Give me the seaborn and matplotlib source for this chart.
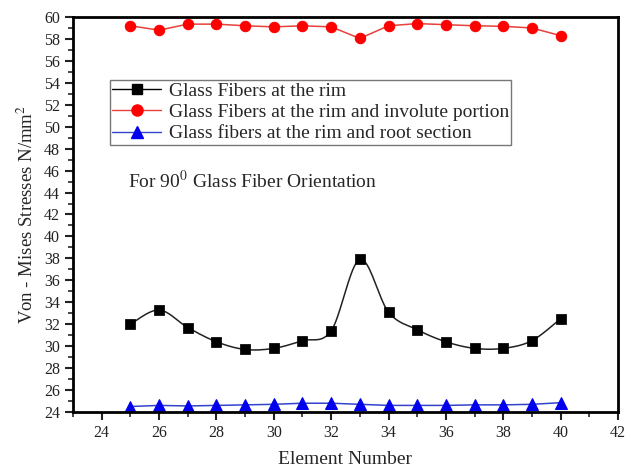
import numpy as np
import pandas as pd
import seaborn as sns
import matplotlib
matplotlib.use("Agg")
import matplotlib.pyplot as plt
from matplotlib.lines import Line2D
from matplotlib.ticker import MultipleLocator

elements = [25, 26, 27, 28, 29, 30, 31, 32, 33, 34, 35, 36, 37, 38, 39, 40]
rim = [32.0, 33.3, 31.7, 30.4, 29.7, 29.8, 30.5, 31.4, 37.9, 33.1, 31.5, 30.4, 29.8, 29.8, 30.5, 32.5]
rim_involute = [59.2, 58.8, 59.35, 59.35, 59.2, 59.1, 59.2, 59.1, 58.05, 59.2, 59.4, 59.3, 59.2, 59.15, 59.0, 58.3]
rim_root = [24.5, 24.6, 24.55, 24.6, 24.65, 24.7, 24.8, 24.8, 24.7, 24.6, 24.6, 24.6, 24.65, 24.65, 24.7, 24.85]
labels = ["Glass Fibers at the rim",
          "Glass Fibers at the rim and involute portion",
          "Glass fibers at the rim and root section"]

sns.set_style("white")
plt.rcParams['font.family'] = ['Liberation Serif', 'DejaVu Serif']
plt.rcParams['mathtext.fontset'] = 'stix'

fig = plt.figure(figsize=(6.36, 4.68), dpi=100)
ax = fig.add_axes([73/636, 1 - 412/468, 545/636, 395/468])

# smooth display curve for the black series (Catmull-Rom through the data points)
x = np.array(elements, float)
y = np.array(rim, float)
xs, ys = [], []
n = len(x)
for i in range(n - 1):
    p0 = (x[max(i - 1, 0)], y[max(i - 1, 0)])
    p1 = (x[i], y[i])
    p2 = (x[i + 1], y[i + 1])
    p3 = (x[min(i + 2, n - 1)], y[min(i + 2, n - 1)])
    t = np.linspace(0, 1, 20, endpoint=(i == n - 2))
    for a, b in ((0, xs), (1, ys)):
        P0, P1, P2, P3 = p0[a], p1[a], p2[a], p3[a]
        b.extend(0.5 * ((2 * P1) + (-P0 + P2) * t + (2 * P0 - 5 * P1 + 4 * P2 - P3) * t ** 2
                        + (-P0 + 3 * P1 - 3 * P2 + P3) * t ** 3))
sns.lineplot(x=xs, y=ys, ax=ax, color='#222222', lw=1.1, sort=False, estimator=None)
sns.scatterplot(x=elements, y=rim, ax=ax, marker='s', color='black', s=45, edgecolor='black', zorder=5)

sns.lineplot(x=elements, y=rim_involute, ax=ax, color='#e8403a', lw=1.1, marker='o',
             markersize=7.5, markerfacecolor='red', markeredgecolor='red')
sns.lineplot(x=elements, y=rim_root, ax=ax, color='#3344cc', lw=1.1, marker='^',
             markersize=8, markerfacecolor='#0000ee', markeredgecolor='#0000ee')

ax.set_xlim(23, 42)
ax.set_ylim(24, 60)
ax.xaxis.set_major_locator(MultipleLocator(2))
ax.xaxis.set_minor_locator(MultipleLocator(1))
ax.yaxis.set_major_locator(MultipleLocator(2))
ax.yaxis.set_minor_locator(MultipleLocator(1))
ax.tick_params(axis='both', which='major', direction='out', length=6, width=1.5,
               labelsize=11.5, colors='#222222', bottom=True, left=True)
ax.tick_params(axis='both', which='minor', direction='out', length=3.5, width=1.2,
               bottom=True, left=True)
for sp in ax.spines.values():
    sp.set_linewidth(2)
    sp.set_color('black')

ax.set_xlabel("Element Number", fontsize=14, labelpad=7)
ax.set_ylabel(r"Von - Mises Stresses N/mm$^2$", fontsize=13.5, labelpad=5)
ax.text(0.1, 0.585, r"For 90$^0$ Glass Fiber Orientation", transform=ax.transAxes,
        fontsize=14, va='center', ha='left')

handles = [
    Line2D([], [], color='black', lw=1, marker='s', markersize=7),
    Line2D([], [], color='#e8403a', lw=1, marker='o', markersize=8,
           markerfacecolor='red', markeredgecolor='red'),
    Line2D([], [], color='#3344cc', lw=1, marker='^', markersize=8,
           markerfacecolor='#0000ee', markeredgecolor='#0000ee'),
]
leg = ax.legend(handles, labels, loc='upper left', bbox_to_anchor=(0.068, 0.84),
                fontsize=14, frameon=True, fancybox=False, edgecolor='#555555',
                handlelength=2.5, borderpad=0.12, labelspacing=0.18, handletextpad=0.4,
                borderaxespad=0)
leg.get_frame().set_linewidth(1)

fig.savefig("out.png", dpi=100)
